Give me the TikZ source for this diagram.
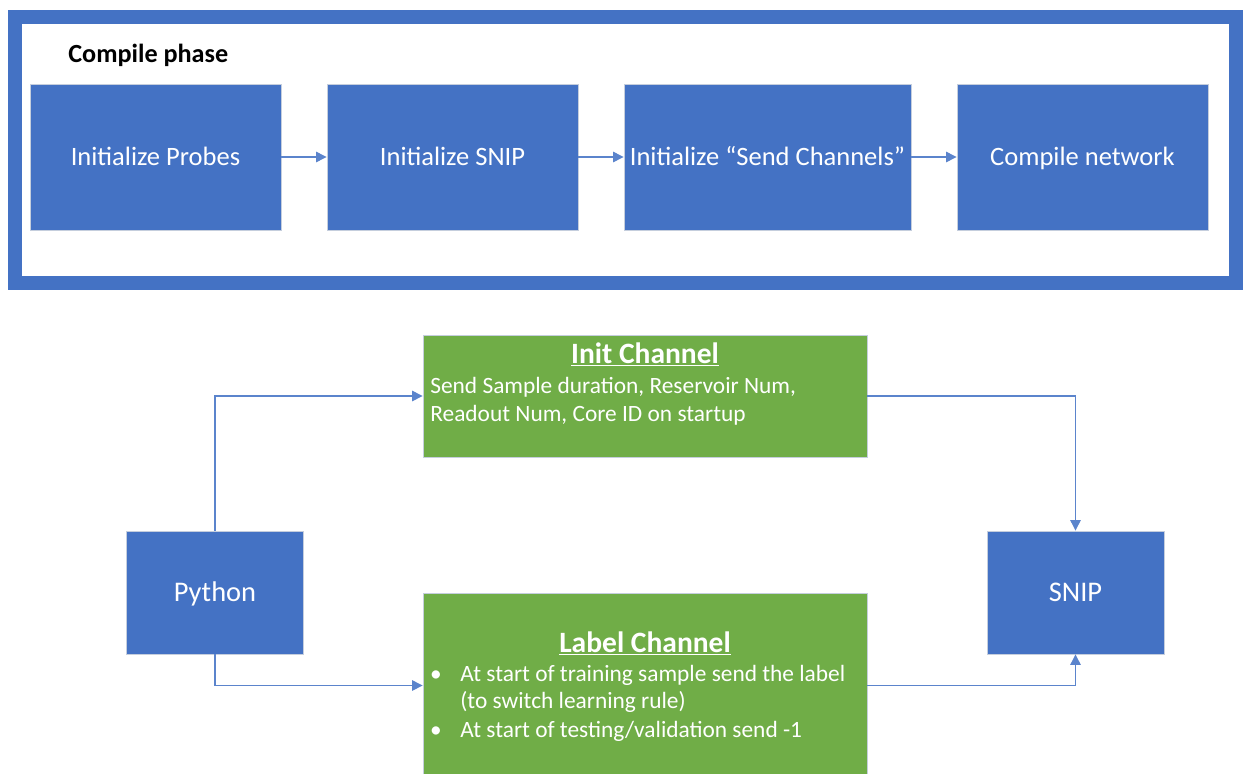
\documentclass[tikz,border=0pt]{standalone}
\usepackage{fontspec}
\setmainfont{Carlito}
\usetikzlibrary{positioning,arrows.meta,calc}
\definecolor{msblue}{HTML}{4472C4}
\definecolor{msgreen}{HTML}{70AD47}
\definecolor{msedge}{HTML}{C5CEDD}
\definecolor{mslink}{HTML}{5B84CC}

\begin{document}
\begin{tikzpicture}[x=0.02cm,y=-0.02cm,
  blockbox/.style={fill=msblue,draw=msedge,line width=0.5pt,text=white,inner sep=0pt,text depth=0pt},
  chanbox/.style={fill=msgreen,draw=msedge,line width=0.5pt,minimum width=8.88cm,inner sep=0pt},
  chantext/.style={text=white,inner sep=0pt,font=\fontsize{13.3}{16}\selectfont},
  flow/.style={mslink,line width=0.6pt,-{Triangle[length=6pt,width=6pt]}}]
  \clip (0,0) rectangle (1251,774);
  % compile phase frame
  \draw[msblue,line width=0.28cm] (15,17) rectangle (1236,283);
  \node[anchor=base west,inner sep=0pt,font=\bfseries\fontsize{14.9}{17}\selectfont] (phase) at (68,62) {Compile phase};
  \foreach \x/\w/\name/\txt in {
      155.5/5.02/probes/{Initialize Probes},
      452.5/5.02/snipinit/{Initialize SNIP},
      767.5/5.74/chans/{Initialize “Send Channels”},
      1082.5/5.02/compile/{Compile network}} {
    \node[blockbox,minimum width=\w cm,minimum height=2.92cm,text height=9.7pt,font=\fontsize{15.1}{17}\selectfont] (\name) at (\x,157) {\txt};
  }
  \foreach \a/\b in {probes/snipinit,snipinit/chans,chans/compile}
    \draw[flow] (\a) -- (\b);

  % runtime channels
  \node[blockbox,minimum width=3.54cm,minimum height=2.46cm,text height=10.4pt,font=\fontsize{16.2}{19}\selectfont] (python) at (215,592.5) {Python};
  \node[blockbox,minimum width=3.54cm,minimum height=2.46cm,text height=10.4pt,font=\fontsize{16.2}{19}\selectfont] (snip) at (1075.5,592.5) {SNIP};
  \node[chanbox,minimum height=2.44cm] (init) at (645,396) {};
  \node[chanbox,minimum height=3.7cm] (label) at (645,685.5) {};

  \node[chantext,anchor=base,font=\bfseries\fontsize{16.8}{19}\selectfont] (inittitle) at (645,363) {\underline{Init Channel}};
  \foreach \i/\y/\txt in {1/393/{Send Sample duration, Reservoir Num,},2/421/{Readout Num, Core ID on startup}}
    \node[chantext,anchor=base west] (initline\i) at (430,\y) {\txt};

  \node[chantext,anchor=base,font=\bfseries\fontsize{16.8}{19}\selectfont] (labeltitle) at (645,652) {\underline{Label Channel}};
  \foreach \i/\y/\txt in {1/681/{At start of training sample send the label},2/708/{(to switch learning rule)},3/737/{At start of testing/validation send -1}}
    \node[chantext,anchor=base west] (labelline\i) at (460,\y) {\txt};
  \foreach \i/\y in {1/681,3/737}
    \node[chantext,anchor=base] (bullet\i) at (436,\y) {\textbullet};

  \draw[flow] (python.north) |- (init.west);
  \draw[flow] (init.east) -| (snip.north);
  \draw[flow] (python.south) |- (label.west);
  \draw[flow] (label.east) -| (snip.south);
\end{tikzpicture}
\end{document}
